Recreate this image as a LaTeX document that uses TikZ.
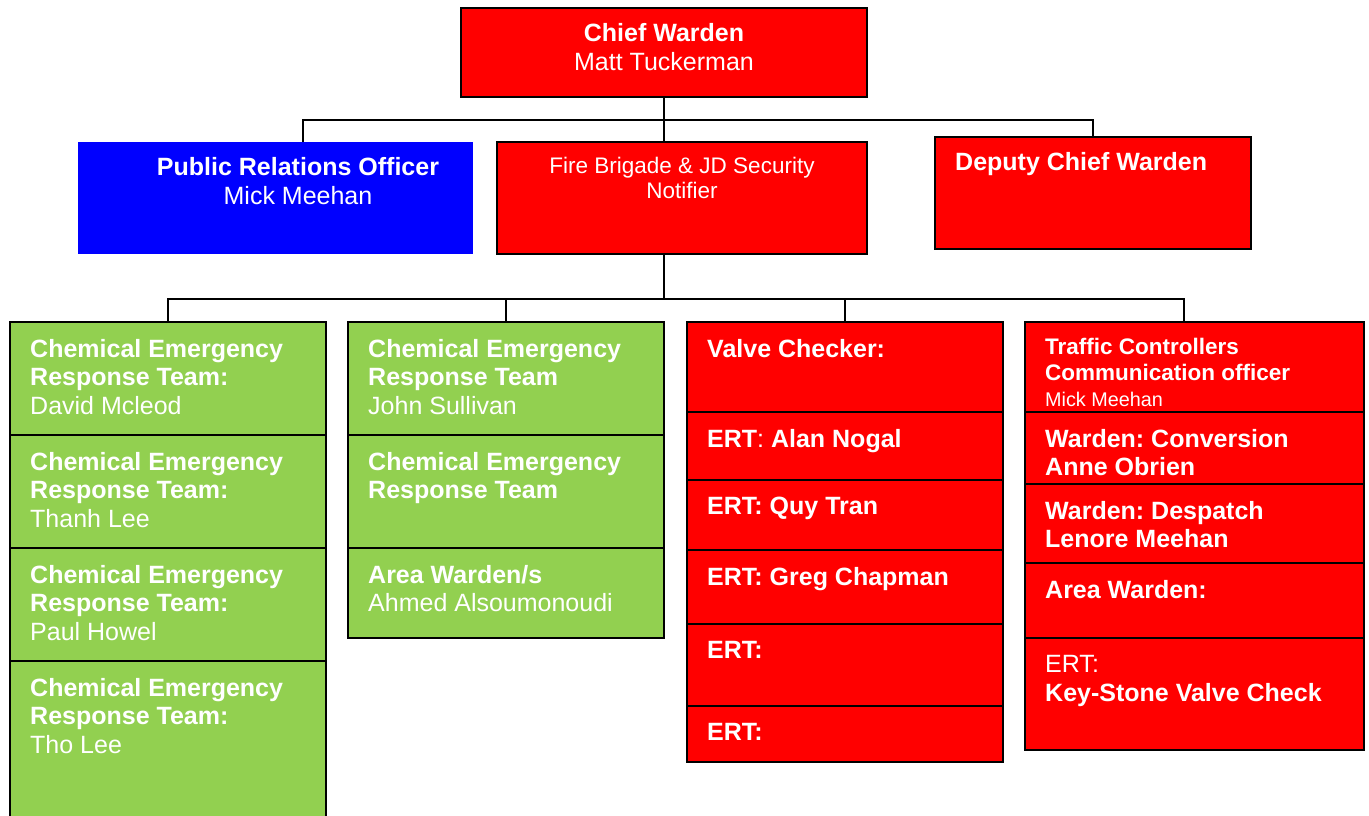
\documentclass[tikz,border=0pt]{standalone}
\usepackage{fontspec}
\setmainfont{Liberation Sans}
\usetikzlibrary{positioning}
\frenchspacing
\definecolor{wred}{HTML}{FF0000}
\definecolor{wblue}{HTML}{0000FF}
\definecolor{wgreen}{HTML}{92D050}
\tikzset{
	box/.style={rectangle, draw=black, line width=1.6pt, anchor=north west, inner sep=0pt, outer sep=0pt},
	redbox/.style={box, fill=wred},
	greenbox/.style={box, fill=wgreen},
	bluebox/.style={box, draw=none, fill=wblue},
	txt/.style={text=white, inner sep=0pt, align=left, font=\fontsize{25}{28.5}\selectfont},
	smalltxt/.style={txt, font=\fontsize{22.5}{25}\selectfont},
	link/.style={draw=black, line width=1.3pt},
}

\begin{document}
\begin{tikzpicture}[x=1pt, y=-1pt]
		%%%%% START %%%%%
		\useasboundingbox (0,0) rectangle (1369,816);
		\clip (0,0) rectangle (1369,816);
		
		%% top level
		\node[redbox, minimum width=406pt, minimum height=89pt] (chief) at (461,8) {};
		\node[txt, align=center, font=\fontsize{25}{29}\selectfont, below=15pt of chief.north] (chiefTxt) {\textbf{Chief Warden}\\Matt Tuckerman};
		
		\node[bluebox, minimum width=395pt, minimum height=112pt] (pro) at (78,142) {};
		\node[txt, align=center, font=\fontsize{25}{29}\selectfont, anchor=north] (proTxt) at (298,157) {\textbf{Public Relations Officer}\\Mick Meehan};
		
		\node[redbox, minimum width=370pt, minimum height=112pt] (fire) at (497,142) {};
		\node[smalltxt, align=center, below=15pt of fire.north] (fireTxt) {Fire Brigade \& JD Security\\Notifier};
		
		\node[redbox, minimum width=316pt, minimum height=112pt] (deputy) at (935,137) {};
		\node[txt, below right=15pt and 20pt of deputy.north west] (deputyTxt) {\textbf{Deputy Chief Warden}};
		
		%% column 1
		\node[greenbox, minimum width=316pt, minimum height=113pt] (c1a) at (10,322) {};
		\node[greenbox, minimum width=316pt, minimum height=113pt] (c1b) at (10,435) {};
		\node[greenbox, minimum width=316pt, minimum height=113pt] (c1c) at (10,548) {};
		\node[greenbox, minimum width=316pt, minimum height=170pt] (c1d) at (10,661) {};
		\node[txt, below right=17pt and 20pt of c1a.north west] (c1aTxt) {\textbf{Chemical Emergency}\\\textbf{Response Team:}\\David Mcleod};
		\node[txt, below right=17pt and 20pt of c1b.north west] (c1bTxt) {\textbf{Chemical Emergency}\\\textbf{Response Team:}\\Thanh Lee};
		\node[txt, below right=17pt and 20pt of c1c.north west] (c1cTxt) {\textbf{Chemical Emergency}\\\textbf{Response Team:}\\Paul Howel};
		\node[txt, below right=17pt and 20pt of c1d.north west] (c1dTxt) {\textbf{Chemical Emergency}\\\textbf{Response Team:}\\Tho Lee};
		
		%% column 2
		\node[greenbox, minimum width=316pt, minimum height=113pt] (c2a) at (348,322) {};
		\node[greenbox, minimum width=316pt, minimum height=113pt] (c2b) at (348,435) {};
		\node[greenbox, minimum width=316pt, minimum height=90pt] (c2c) at (348,548) {};
		\node[txt, below right=17pt and 20pt of c2a.north west] (c2aTxt) {\textbf{Chemical Emergency}\\\textbf{Response Team}\\John Sullivan};
		\node[txt, below right=17pt and 20pt of c2b.north west] (c2bTxt) {\textbf{Chemical Emergency}\\\textbf{Response Team}};
		\node[txt, below right=17pt and 20pt of c2c.north west] (c2cTxt) {\textbf{Area Warden/s}\\Ahmed Alsoumonoudi};
		
		%% column 3
		\node[redbox, minimum width=316pt, minimum height=90pt] (c3a) at (687,322) {};
		\node[redbox, minimum width=316pt, minimum height=68pt] (c3b) at (687,412) {};
		\node[redbox, minimum width=316pt, minimum height=70pt] (c3c) at (687,480) {};
		\node[redbox, minimum width=316pt, minimum height=74pt] (c3d) at (687,550) {};
		\node[redbox, minimum width=316pt, minimum height=82pt] (c3e) at (687,624) {};
		\node[redbox, minimum width=316pt, minimum height=56pt] (c3f) at (687,706) {};
		\node[txt, below right=17pt and 20pt of c3a.north west] (c3aTxt) {\textbf{Valve Checker:}};
		\node[txt, below right=17pt and 20pt of c3b.north west] (c3bTxt) {\textbf{ERT}: \textbf{Alan Nogal}};
		\node[txt, below right=17pt and 20pt of c3c.north west] (c3cTxt) {\textbf{ERT: Quy Tran}};
		\node[txt, below right=17pt and 20pt of c3d.north west] (c3dTxt) {\textbf{ERT: Greg Chapman}};
		\node[txt, below right=17pt and 20pt of c3e.north west] (c3eTxt) {\textbf{ERT:}};
		\node[txt, below right=17pt and 20pt of c3f.north west] (c3fTxt) {\textbf{ERT:}};
		
		%% column 4
		\node[redbox, minimum width=339pt, minimum height=90pt] (c4a) at (1025,322) {};
		\node[redbox, minimum width=339pt, minimum height=72pt] (c4b) at (1025,412) {};
		\node[redbox, minimum width=339pt, minimum height=79pt] (c4c) at (1025,484) {};
		\node[redbox, minimum width=339pt, minimum height=75pt] (c4d) at (1025,563) {};
		\node[redbox, minimum width=339pt, minimum height=112pt] (c4e) at (1025,638) {};
		\node[smalltxt, font=\fontsize{22.5}{26}\selectfont, below right=16pt and 20pt of c4a.north west] (c4aTxt) {\textbf{Traffic Controllers}\\\textbf{Communication officer}\\\fontsize{19.8}{24}\selectfont Mick Meehan};
		\node[txt, font=\fontsize{25}{28}\selectfont, below right=17pt and 20pt of c4b.north west] (c4bTxt) {\textbf{Warden: Conversion}\\\textbf{Anne Obrien}};
		\node[txt, below right=17pt and 20pt of c4c.north west] (c4cTxt) {\textbf{Warden: Despatch}\\\textbf{Lenore Meehan}};
		\node[txt, below right=17pt and 20pt of c4d.north west] (c4dTxt) {\textbf{Area Warden:}};
		\node[txt, font=\fontsize{25}{29}\selectfont, below right=17pt and 20pt of c4e.north west] (c4eTxt) {ERT:\\\textbf{Key-Stone Valve Check}};
		
		%% connectors
		\coordinate (busA) at (664,120);
		\coordinate (proTap) at (303,142);
		\coordinate (fireTap) at (664,254);
		\coordinate (busB) at (664,299);
		\coordinate (c4Tap) at (1184,322);
		\draw[link] (chief.south -| busA) -- (fire.north -| busA);
		\draw[link] (proTap) |- (busA) -| (deputy.north);
		\draw[link] (fireTap) -- (busB);
		\draw[link] (c1a.north) |- (busB) -| (c4Tap);
		\draw[link] (c2a.north) -- (c2a.north |- busB);
		\draw[link] (c3a.north) -- (c3a.north |- busB);
		%%%%% END %%%%%
	\end{tikzpicture}
\end{document}
